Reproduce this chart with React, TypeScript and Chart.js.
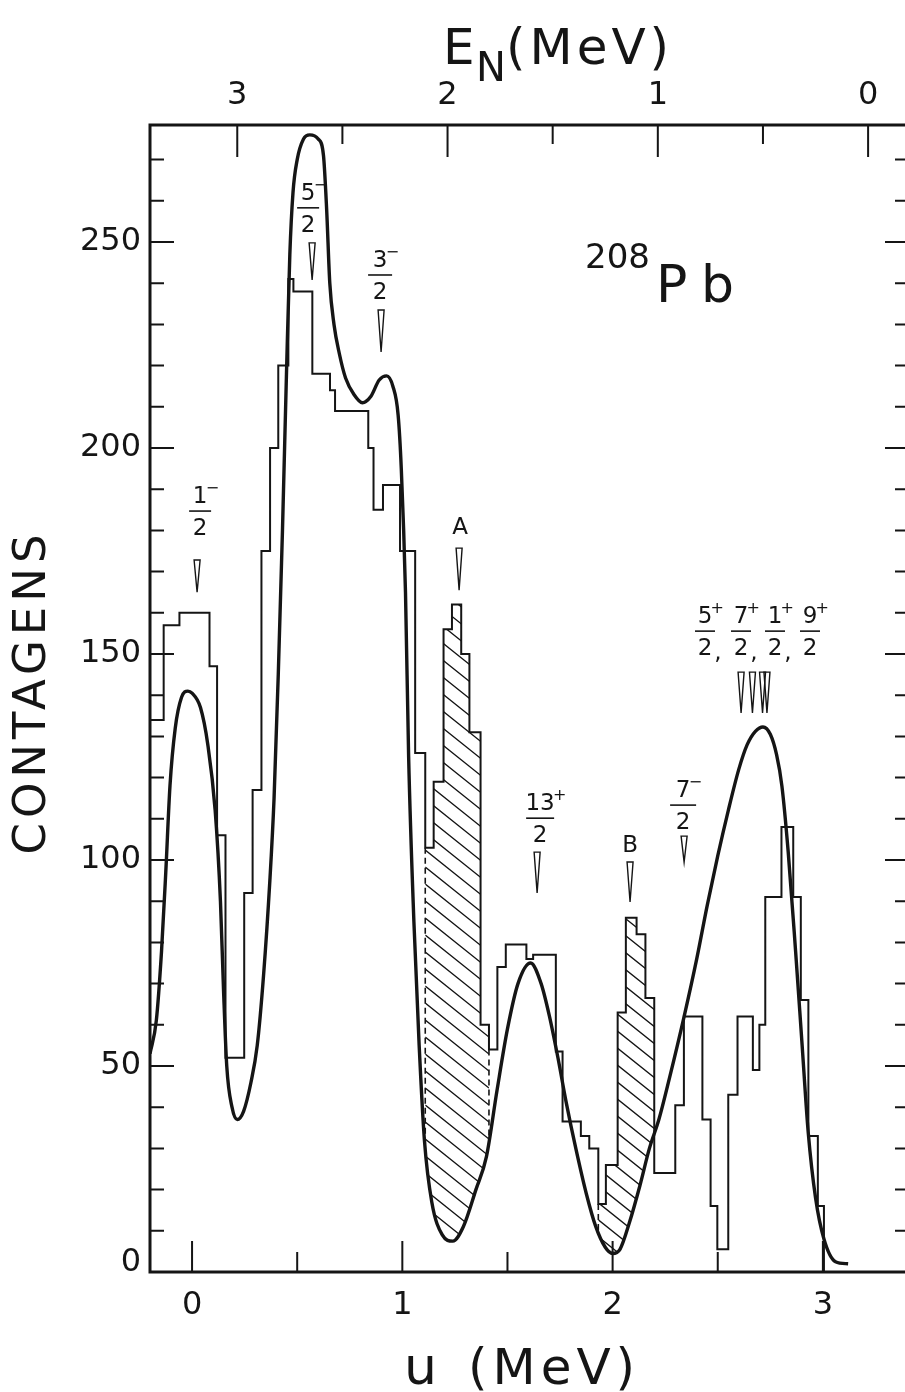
import React, { useEffect, useRef } from 'react';
import { Chart, registerables } from 'chart.js';

Chart.register(...registerables);

// Spectrum histogram: bin edges in u (MeV) and counts per bin (one fewer than edges)
const binEdges = [
  -0.2, -0.135, -0.06, 0.083, 0.119, 0.159, 0.248, 0.288, 0.33, 0.371,
  0.41, 0.458, 0.482, 0.572, 0.656, 0.68, 0.838, 0.863, 0.908, 0.989,
  1.061, 1.109, 1.149, 1.196, 1.236, 1.28, 1.319, 1.372, 1.412, 1.452,
  1.492, 1.59, 1.622, 1.73, 1.762, 1.849, 1.889, 1.932, 1.968, 2.024,
  2.063, 2.114, 2.156, 2.198, 2.298, 2.339, 2.427, 2.466, 2.498, 2.55,
  2.594, 2.667, 2.698, 2.726, 2.803, 2.859, 2.895, 2.931, 2.976, 3.005,
];
const binCounts = [
  134, 157, 160, 147, 106, 52, 92, 117, 175, 200,
  220, 241, 238, 218, 214, 209, 200, 185, 191, 175,
  126, 103, 119, 156, 162, 150, 131, 60, 54, 74,
  79.5, 76, 77, 53.5, 36.5, 33, 30, 16.5, 26, 63,
  86, 82, 66.5, 24, 40.5, 62, 37, 16, 5.5, 43,
  62, 49, 60, 91, 108, 91, 66, 33, 16,
];

// Fitted curve sampled along u (MeV)
const fitU = [
  -0.2, -0.17, -0.145, -0.125, -0.105, -0.08, -0.05, -0.02, 0.0, 0.04,
  0.075, 0.11, 0.135, 0.15, 0.165, 0.19, 0.215, 0.245, 0.28, 0.31,
  0.34, 0.37, 0.39, 0.41, 0.43, 0.45, 0.465, 0.48, 0.5, 0.53,
  0.56, 0.6, 0.625, 0.64, 0.655, 0.675, 0.7, 0.73, 0.77, 0.81,
  0.85, 0.89, 0.925, 0.955, 0.98, 0.995, 1.015, 1.03, 1.055, 1.08,
  1.105, 1.14, 1.19, 1.24, 1.29, 1.35, 1.4, 1.45, 1.5, 1.55,
  1.61, 1.66, 1.7, 1.74, 1.78, 1.825, 1.875, 1.92, 1.965, 2.0,
  2.035, 2.08, 2.13, 2.175, 2.22, 2.27, 2.34, 2.4, 2.45, 2.5,
  2.55, 2.6, 2.64, 2.68, 2.715, 2.75, 2.78, 2.805, 2.835, 2.87,
  2.9, 2.93, 2.965, 3.005, 3.06, 3.12,
];
const fitCounts = [
  53, 61, 78, 97, 118, 132, 139.5, 141, 140.5, 137,
  128, 112, 90, 68, 50, 40, 37, 39, 46, 55,
  72, 95, 115, 145, 180, 220, 247, 262, 270, 275,
  276, 275, 271, 258, 240, 230, 223, 217, 213, 211,
  212.5, 216.5, 217.5, 215, 208, 195, 165, 125, 85, 55,
  32, 17, 9, 7.5, 11, 20, 28, 44, 59, 70,
  75, 70, 62, 52, 41, 30, 19, 11, 6, 4.5,
  5.5, 12, 21, 30, 37, 47, 62, 76, 89, 101,
  112, 122, 128, 131.3, 132.3, 130.5, 125.5, 118, 102, 78,
  56, 34, 18, 8, 2.5, 2,
];

// Axis ticks
const uTickLabels = [0, 1, 2, 3];
const enTickLabels = [3, 2, 1, 0];
const countTickLabels = [0, 50, 100, 150, 200, 250];
const EN_PLUS_U = 3.215; // E_N = 3.215 - u

// Level markers: u (MeV), wedge top and tip (contagens)
const markerU = [0.024, 0.571, 0.899, 1.27, 1.641, 2.083, 2.34, 2.611, 2.665, 2.713, 2.734];
const markerTop = [172.8, 249.8, 233.5, 175.7, 101.9, 99.5, 105.8, 145.6, 145.6, 145.6, 145.6];
const markerTip = [165, 240.8, 223.3, 165.5, 92, 89.8, 99.5, 135.7, 135.7, 135.7, 135.7];

// Hatched excess A and B between spectrum and fit (u range, MeV)
const hatchFrom = [1.109, 1.932];
const hatchTo = [1.412, 2.26];

const CANVAS_W = 920;
const CANVAS_H = 1392;
const FONT = '"DejaVu Sans", "Liberation Sans", sans-serif';
const INK = '#151515';

function histValueAt(u: number): number {
  for (let i = 0; i < binCounts.length; i++) {
    if (u >= binEdges[i] && u < binEdges[i + 1]) return binCounts[i];
  }
  return 0;
}

function txt(ctx: any, s: string, x: number, y: number, size: number,
  align: CanvasTextAlign = 'center', baseline: CanvasTextBaseline = 'middle', spacing = 0) {
  ctx.font = `${size}px ${FONT}`;
  ctx.textAlign = align;
  ctx.textBaseline = baseline;
  if ('letterSpacing' in ctx) ctx.letterSpacing = `${spacing}px`;
  ctx.fillText(s, x, y);
  if ('letterSpacing' in ctx) ctx.letterSpacing = '0px';
}

function fraction(ctx: any, cx: number, barY: number, num: string, sign: string, den: string, half: number) {
  txt(ctx, num, cx, barY - 14, 23);
  ctx.font = `23px ${FONT}`;
  const w = ctx.measureText(num).width;
  if (sign) txt(ctx, sign, cx + w / 2 + 5, barY - 22, 16);
  ctx.beginPath();
  ctx.moveTo(cx - half, barY);
  ctx.lineTo(cx + half, barY);
  ctx.lineWidth = 1.6;
  ctx.stroke();
  txt(ctx, den, cx, barY + 18, 23);
}

function wedge(ctx: any, x: number, yTop: number, yTip: number) {
  ctx.beginPath();
  ctx.moveTo(x - 3, yTop);
  ctx.lineTo(x + 3, yTop);
  ctx.lineTo(x, yTip);
  ctx.closePath();
  ctx.lineWidth = 1.4;
  ctx.stroke();
}

const decor = {
  id: 'decor',
  afterDatasetsDraw(chart: any) {
    const { ctx, chartArea: a, scales } = chart;
    const xs = scales.x;
    const ys = scales.y;
    const px = (u: number) => xs.getPixelForValue(u);
    const py = (c: number) => ys.getPixelForValue(c);
    const histLine = chart.getDatasetMeta(0).dataset;
    const fitLine = chart.getDatasetMeta(1).dataset;
    if (typeof fitLine.updateControlPoints === 'function') fitLine.updateControlPoints(a, 'x');

    const histFirst = px(binEdges[0]);
    const histLast = px(binEdges[binEdges.length - 1]);
    const fitFirst = px(fitU[0]);
    const fitLast = px(fitU[fitU.length - 1]);

    const clipAboveFit = () => {
      ctx.beginPath();
      fitLine.path(ctx);
      ctx.lineTo(fitLast, a.top);
      ctx.lineTo(fitFirst, a.top);
      ctx.closePath();
      ctx.clip();
    };

    ctx.save();
    ctx.strokeStyle = INK;
    ctx.fillStyle = INK;

    // hatching between spectrum and fit
    for (let h = 0; h < hatchFrom.length; h++) {
      const x0 = px(hatchFrom[h]);
      const x1 = px(hatchTo[h]);
      ctx.save();
      ctx.beginPath();
      ctx.rect(x0, a.top, x1 - x0, a.bottom - a.top);
      ctx.clip();
      ctx.beginPath();
      histLine.path(ctx);
      ctx.lineTo(histLast, a.bottom);
      ctx.lineTo(histFirst, a.bottom);
      ctx.closePath();
      ctx.clip();
      clipAboveFit();
      const slope = 0.8;
      const step = 17;
      ctx.beginPath();
      for (let c = a.top - slope * x1 - 40; c < a.bottom - slope * x0 + 40; c += step) {
        ctx.moveTo(x0, c + slope * x0);
        ctx.lineTo(x1, c + slope * x1);
      }
      ctx.lineWidth = 1.3;
      ctx.stroke();
      ctx.restore();
    }

    // dashed limits of the hatched regions
    const dashed = [hatchFrom[0], hatchTo[0], hatchFrom[1]];
    ctx.save();
    clipAboveFit();
    ctx.setLineDash([6, 4]);
    ctx.lineWidth = 1.6;
    ctx.beginPath();
    for (const u of dashed) {
      const top = Math.min(histValueAt(u - 1e-6), histValueAt(u + 1e-6));
      ctx.moveTo(px(u), py(top));
      ctx.lineTo(px(u), a.bottom);
    }
    ctx.stroke();
    ctx.restore();

    // frame
    ctx.lineWidth = 3;
    ctx.strokeRect(a.left, a.top, a.right - a.left, a.bottom - a.top);

    // count ticks on left and right
    ctx.lineWidth = 2;
    ctx.beginPath();
    for (let c = 10; c <= 270; c += 10) {
      const y = py(c);
      const major = c % 50 === 0;
      ctx.moveTo(a.left, y);
      ctx.lineTo(a.left + (major ? 24 : 14), y);
      ctx.moveTo(a.right, y);
      ctx.lineTo(a.right - (major ? 22 : 12), y);
    }
    // u ticks at bottom
    for (let k = 0; k <= 6; k++) {
      const u = k * 0.5;
      ctx.moveTo(px(u), a.bottom);
      ctx.lineTo(px(u), a.bottom - (k % 2 === 0 ? 31 : 20));
    }
    // E_N ticks at top
    for (let k = 0; k <= 6; k++) {
      const e = k * 0.5;
      const x = px(EN_PLUS_U - e);
      ctx.moveTo(x, a.top);
      ctx.lineTo(x, a.top + (k % 2 === 0 ? 32 : 19));
    }
    ctx.stroke();

    // tick labels
    for (const c of countTickLabels) {
      txt(ctx, String(c), 141, c === 0 ? py(0) - 9 : py(c), 32, 'right');
    }
    for (const u of uTickLabels) txt(ctx, String(u), px(u), 1306, 32);
    for (const e of enTickLabels) txt(ctx, String(e), px(EN_PLUS_U - e), 96, 32);

    // axis titles
    ctx.save();
    ctx.translate(33, 692);
    ctx.rotate(-Math.PI / 2);
    txt(ctx, 'CONTAGENS', 0, 0, 45, 'center', 'middle', 5);
    ctx.restore();

    txt(ctx, 'E', 443, 64, 50, 'left', 'alphabetic');
    txt(ctx, 'N', 476, 81, 40, 'left', 'alphabetic');
    txt(ctx, '(MeV)', 506, 64, 50, 'left', 'alphabetic', 4);

    txt(ctx, 'u', 404, 1384, 52, 'left', 'alphabetic');
    txt(ctx, '(MeV)', 468, 1384, 50, 'left', 'alphabetic', 5);

    // nucleus label
    txt(ctx, '208', 585, 268, 34, 'left', 'alphabetic');
    txt(ctx, 'P', 656, 302, 52, 'left', 'alphabetic');
    txt(ctx, 'b', 701, 302, 52, 'left', 'alphabetic');

    // level markers
    for (let i = 0; i < markerU.length; i++) {
      wedge(ctx, px(markerU[i]), py(markerTop[i]), py(markerTip[i]));
    }
    const mx = (i: number) => px(markerU[i]);
    const mt = (i: number) => py(markerTop[i]);

    fraction(ctx, mx(0) + 3, mt(0) - 49, '1', '−', '2', 11);
    fraction(ctx, mx(1) - 4, mt(1) - 35, '5', '−', '2', 11);
    fraction(ctx, mx(2) - 1, mt(2) - 35, '3', '−', '2', 12);
    txt(ctx, 'A', mx(3) + 1, mt(3) - 20, 23);
    fraction(ctx, mx(4) + 3, mt(4) - 34, '13', '+', '2', 14);
    txt(ctx, 'B', mx(5), mt(5) - 16, 23);
    fraction(ctx, mx(6) - 1, mt(6) - 31, '7', '−', '2', 13);

    // grouped 5/2+, 7/2+, 1/2+, 9/2+
    const gBar = mt(7) - 41;
    const gNums = ['5', '7', '1', '9'];
    const gX = [705, 741, 775, 810];
    gNums.forEach((n, i) => {
      fraction(ctx, gX[i], gBar, n, '+', '2', 10);
      if (i < 3) txt(ctx, ',', gX[i] + 13, gBar + 22, 23);
    });

    ctx.restore();
  },
};

export default function App() {
  const canvasRef = useRef<HTMLCanvasElement>(null);

  useEffect(() => {
    const canvas = canvasRef.current;
    if (!canvas) return;
    const histPoints = binCounts.map((c, i) => ({ x: binEdges[i], y: c }));
    histPoints.push({ x: binEdges[binEdges.length - 1], y: 0 });
    const fitPoints = fitU.map((u, i) => ({ x: u, y: fitCounts[i] }));

    const chart = new Chart(canvas, {
      type: 'line',
      data: {
        datasets: [
          {
            label: 'contagens',
            data: histPoints,
            stepped: true,
            borderColor: INK,
            borderWidth: 2,
            pointRadius: 0,
            fill: false,
          },
          {
            label: 'ajuste',
            data: fitPoints,
            cubicInterpolationMode: 'monotone',
            borderColor: INK,
            borderWidth: 3.4,
            pointRadius: 0,
            fill: false,
          },
        ],
      },
      options: {
        responsive: false,
        animation: false,
        devicePixelRatio: 1,
        events: [],
        layout: { padding: { left: 150, top: 125, right: CANVAS_W - 907, bottom: CANVAS_H - 1272 } },
        plugins: { legend: { display: false }, tooltip: { enabled: false } },
        scales: {
          x: { type: 'linear', min: -0.2, max: 3.4, display: false },
          y: { type: 'linear', min: 0, max: 278.4, display: false },
        },
      },
      plugins: [decor],
    } as any);

    return () => chart.destroy();
  }, []);

  return (
    <div style={{ position: 'absolute', left: 0, top: 0, width: 905, height: 1392, overflow: 'hidden', background: '#fff' }}>
      <canvas ref={canvasRef} width={CANVAS_W} height={CANVAS_H} style={{ display: 'block' }} />
    </div>
  );
}
